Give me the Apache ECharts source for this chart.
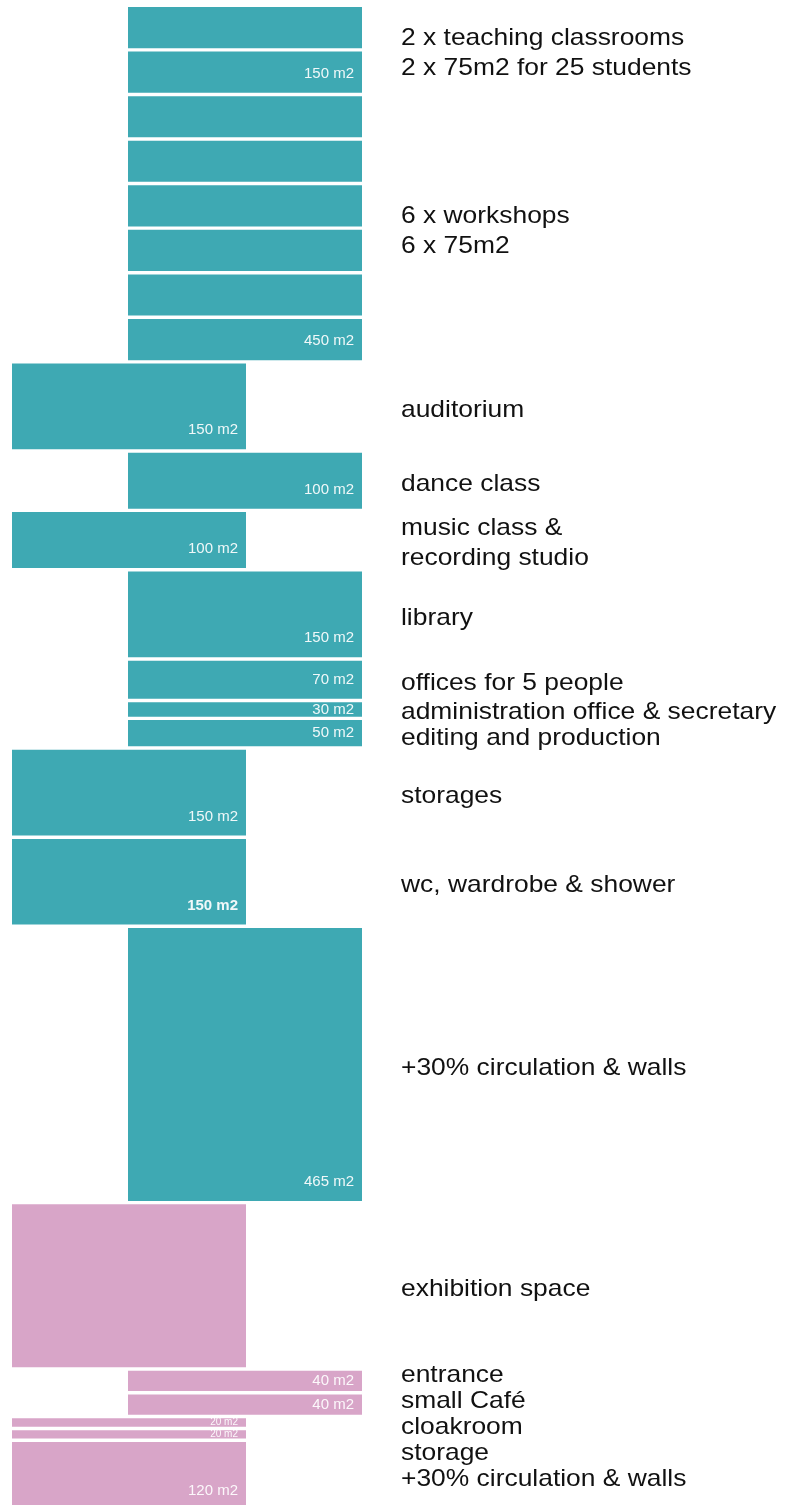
<!DOCTYPE html>
<html>
<head>
<meta charset="utf-8">
<script src="https://cdn.jsdelivr.net/npm/echarts@6/dist/echarts.min.js"></script>
<style>
    html, body { margin: 0; padding: 0; background: #fff; }
    #main { width: 786px; height: 1505px; }
</style>
</head>
<body>
<div id="main"></div>
<script>
// rooms, top to bottom, area in m2
const blockAreas = [75, 75, 75, 75, 75, 75, 75, 75, 150, 100, 100, 150, 70, 30, 50, 150, 150, 465, 280, 40, 40, 20, 20, 120];
const blockSide = ['R', 'R', 'R', 'R', 'R', 'R', 'R', 'R', 'L', 'R', 'L', 'R', 'R', 'R', 'R', 'L', 'L', 'R', 'L', 'R', 'R', 'L', 'L', 'L'];
const blockGroup = ['school', 'school', 'school', 'school', 'school', 'school', 'school', 'school', 'school', 'school', 'school', 'school',
    'school', 'school', 'school', 'school', 'school', 'school', 'public', 'public', 'public', 'public', 'public', 'public'];
const blockTags = ['', '150 m2', '', '', '', '', '', '450 m2', '150 m2', '100 m2', '100 m2', '150 m2', '70 m2', '30 m2', '50 m2',
    '150 m2', '150 m2', '465 m2', '', '40 m2', '40 m2', '20 m2', '20 m2', '120 m2'];

// room names on the right, and how many blocks each one covers
const roomLabels = ['2 x teaching classrooms\n2 x 75m2 for 25 students', '6 x workshops\n6 x 75m2', 'auditorium', 'dance class',
    'music class &\nrecording studio', 'library', 'offices for 5 people', 'administration office & secretary',
    'editing and production', 'storages', 'wc, wardrobe & shower', '+30% circulation & walls', 'exhibition space',
    'entrance', 'small Café', 'cloakroom', 'storage', '+30% circulation & walls'];
const roomLabelSpan = [2, 6, 1, 1, 1, 1, 1, 1, 1, 1, 1, 1, 1, 1, 1, 1, 1, 1];

const COLORS = { school: '#3ea9b3', public: '#d8a5c8' };
const COL_X = { L: 12, R: 128 };
const BLOCK_W = 234;
const GAP = 3.4;
const LABEL_X = 401;
const LABEL_SLOT = 26;   // px per text line when spreading labels
const VISIBLE_MAX = 2521; // m2 that fit in the page height, the last block runs off the bottom
const BOLD_TAGS = [16];
const FONT = '"Liberation Sans", Arial, sans-serif';

// cumulative start of every block
const blockStart = [];
let total = 0;
blockAreas.forEach(a => { blockStart.push(total); total += a; });

const blockData = blockAreas.map((a, i) => [COL_X[blockSide[i]], blockStart[i], blockStart[i] + a]);

const labelData = [];
let b = 0;
roomLabelSpan.forEach(n => {
    const s = blockStart[b];
    const e = blockStart[b + n - 1] + blockAreas[b + n - 1];
    labelData.push([LABEL_X, s, e]);
    b += n;
});

// spread overlapping labels around their wanted centres
function layoutLabels(centers, heights) {
    const clusters = [];
    centers.forEach((c, i) => {
        let cl = { idx: [i], h: heights[i], sum: c - heights[i] / 2, n: 1 };
        cl.top = cl.sum;
        while (clusters.length) {
            const prev = clusters[clusters.length - 1];
            if (prev.top + prev.h <= cl.top) break;
            clusters.pop();
            cl = { idx: prev.idx.concat(cl.idx), h: prev.h + cl.h, sum: prev.sum + cl.sum - cl.n * prev.h, n: prev.n + cl.n };
            cl.top = cl.sum / cl.n;
        }
        clusters.push(cl);
    });
    const pos = [];
    clusters.forEach(cl => {
        let y = cl.top;
        cl.idx.forEach(i => { pos[i] = y + heights[i] / 2; y += heights[i]; });
    });
    return pos;
}

let labelPos = [];

const chart = echarts.init(document.getElementById('main'));
chart.setOption({
    animation: false,
    grid: { left: 0, top: 7, right: 0, bottom: 0 },
    xAxis: { type: 'value', min: 0, max: 786, show: false },
    yAxis: { type: 'value', min: 0, max: VISIBLE_MAX, inverse: true, show: false },
    series: [{
        type: 'custom',
        clip: false,
        data: blockData,
        encode: { x: 0, y: [1, 2] },
        renderItem: (params, api) => {
            const i = params.dataIndex;
            const x = api.value(0);
            const p0 = api.coord([x, api.value(1)]);
            const p1 = api.coord([x + BLOCK_W, api.value(2)]);
            const h = p1[1] - p0[1] - GAP;
            const children = [{
                type: 'rect',
                shape: { x: p0[0], y: p0[1], width: p1[0] - p0[0], height: h },
                style: { fill: COLORS[blockGroup[i]] }
            }];
            if (blockTags[i]) {
                const small = h < 12;
                children.push({
                    type: 'text',
                    x: p1[0] - 8,
                    y: Math.max(p0[1] + h / 2, p0[1] + h - 19),
                    style: {
                        text: blockTags[i],
                        fill: 'rgba(255,255,255,0.92)',
                        fontSize: small ? 10 : 15,
                        fontWeight: BOLD_TAGS.indexOf(i) >= 0 ? 'bold' : 'normal',
                        fontFamily: FONT,
                        align: 'right',
                        verticalAlign: 'middle'
                    }
                });
            }
            return { type: 'group', children };
        }
    }, {
        type: 'custom',
        clip: false,
        data: labelData,
        encode: { x: 0, y: [1, 2] },
        renderItem: (params, api) => {
            if (params.dataIndex === 0) {
                const centers = labelData.map(d => (api.coord([d[0], d[1]])[1] + api.coord([d[0], d[2]])[1]) / 2);
                const heights = roomLabels.map(t => t.split('\n').length * LABEL_SLOT);
                labelPos = layoutLabels(centers, heights);
            }
            const i = params.dataIndex;
            const p = api.coord([api.value(0), api.value(1)]);
            return {
                type: 'text',
                x: p[0],
                y: labelPos[i] + 2,
                scaleX: 1.1,
                style: {
                    text: roomLabels[i],
                    fill: '#111',
                    fontSize: 24,
                    lineHeight: 30,
                    fontFamily: FONT,
                    align: 'left',
                    verticalAlign: 'middle'
                }
            };
        }
    }]
});
window.addEventListener('resize', () => { chart.resize(); });
</script>
</body>
</html>
